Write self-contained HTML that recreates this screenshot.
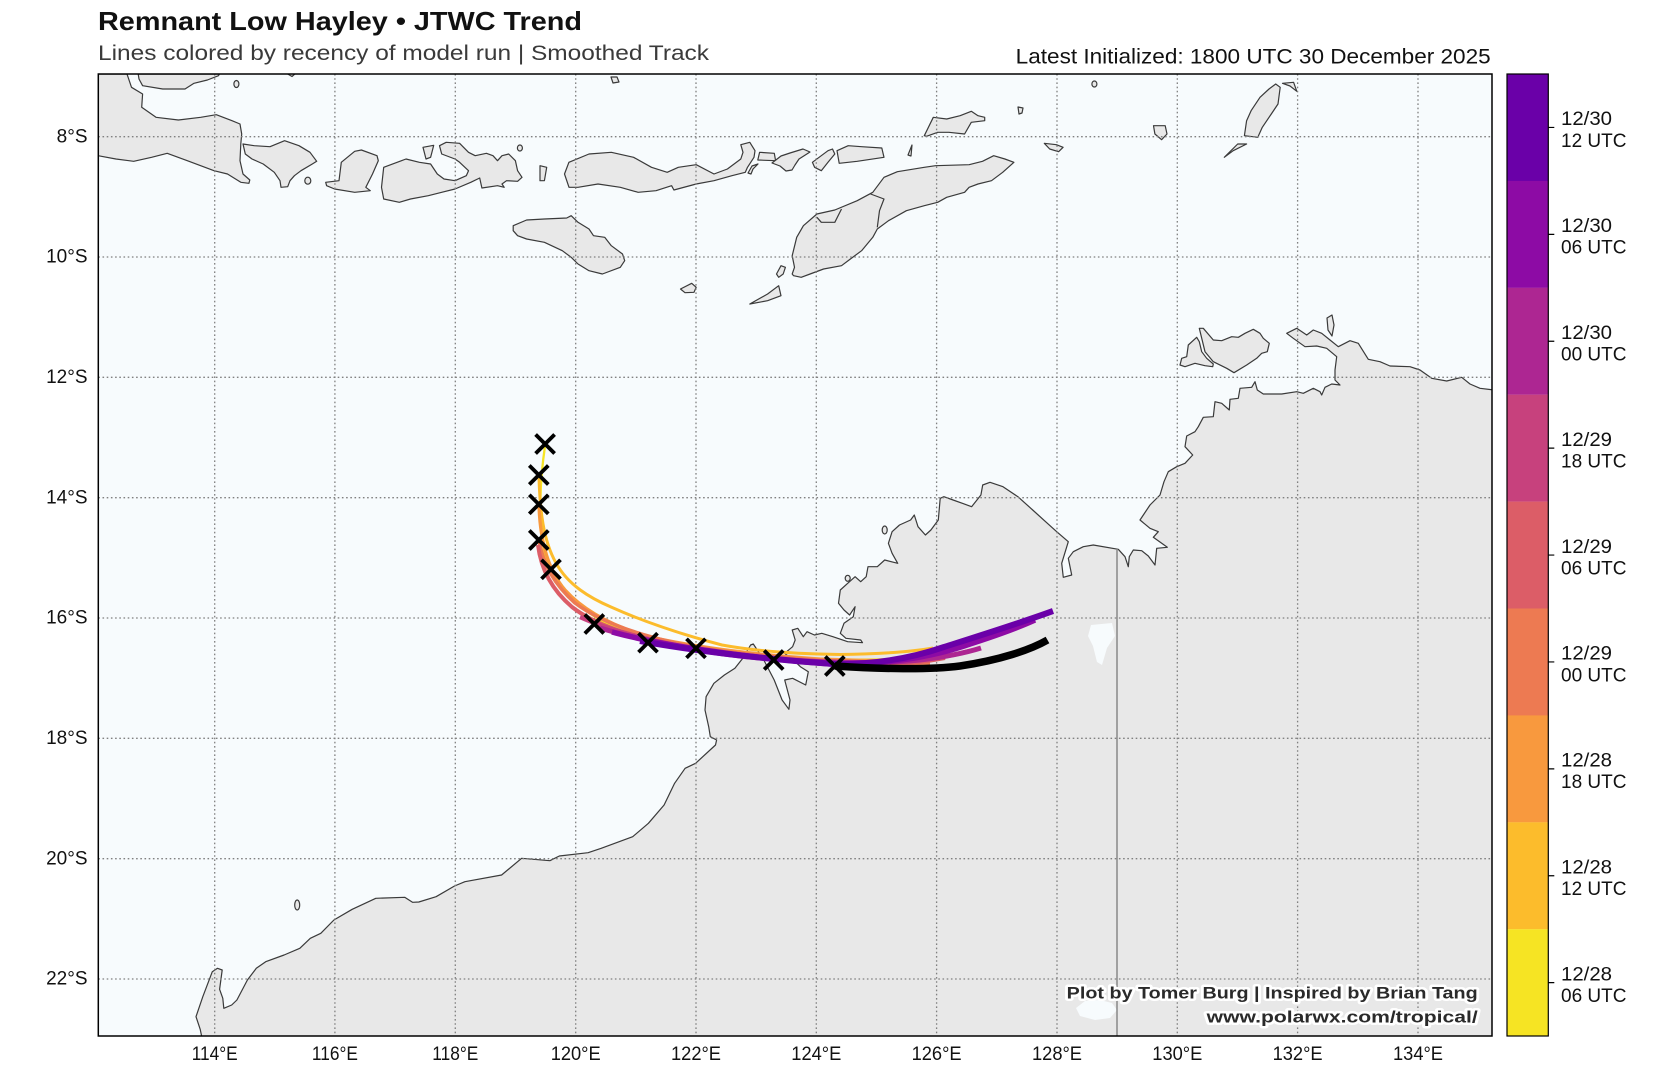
<!DOCTYPE html>
<html>
<head>
<meta charset="utf-8">
<style>
  html,body{margin:0;padding:0;background:#fff;}
  svg{display:block;}
  text{font-family:"Liberation Sans",Arial,sans-serif;}
</style>
</head>
<body>
<svg width="1662" height="1068" viewBox="0 0 1662 1068" xmlns="http://www.w3.org/2000/svg">
  <defs>
    <clipPath id="mapclip"><rect x="98.3" y="74" width="1393.7" height="962"/></clipPath>
  </defs>

  <!-- Titles -->
  <text x="98" y="30" font-size="26" font-weight="bold" fill="#111" textLength="484" lengthAdjust="spacingAndGlyphs">Remnant Low Hayley • JTWC Trend</text>
  <text x="98" y="60" font-size="21" fill="#3a3a3a" textLength="611" lengthAdjust="spacingAndGlyphs">Lines colored by recency of model run | Smoothed Track</text>
  <text x="1015.7" y="63.3" font-size="21" fill="#111" textLength="475" lengthAdjust="spacingAndGlyphs">Latest Initialized: 1800 UTC 30 December 2025</text>

  <!-- Map -->
  <g clip-path="url(#mapclip)">
    <rect x="98.3" y="74" width="1393.7" height="962" fill="#f7fbfd"/>
    <g fill="#e8e8e8" stroke="#3a3a3a" stroke-width="1.2" stroke-linejoin="round">
      <path d="M98,74 L127,74 L131.5,87.3 L142.6,94 L141.7,107.3 L156,117.3 L178.4,120 L200.7,117.3 L216.3,114.7 L232,120.7 L240,124 L241.7,134 L240.8,144 L240,160.7 L243,174 L249.8,180 L248.9,183.3 L240.8,182.3 L227.5,174 L214,170.7 L187.3,160.7 L167.2,153.3 L151.6,157.3 L133.7,161.3 L115.9,159 L98,155.7 Z"/>
      <path d="M138.2,74 L139,79 L142.6,85.7 L162.7,89 L185,89 L194,83.3 L207.4,80 L218.5,75.7 L219.4,74 Z"/>
      <ellipse cx="236.4" cy="84" rx="2.5" ry="3.5"/>
      <path d="M286,73 L296,73 L292,76.5 Z"/>
      <path d="M611,77 L617,77 L619,82 L613,83 Z"/>
      <path d="M243,144 L254.2,145.7 L270,146.7 L284.6,140.7 L299,145.7 L310,152.3 L316.7,161.3 L312.3,164 L301,170.7 L294.4,175.7 L290,180.7 L287.7,186.7 L281,187.3 L280,180.7 L274.3,172.3 L263.2,164 L252,159 L245.3,154 Z"/>
      <ellipse cx="307.8" cy="180.7" rx="3" ry="3.5"/>
      <path d="M325.7,182.3 L339,180.7 L341.3,162.3 L354.7,151.3 L361.4,150 L377,155.7 L378.3,160.7 L372.5,174 L365.8,187.3 L370.3,190.7 L354.7,192.3 L334.6,189 L326.6,185.7 Z"/>
      <path d="M383.7,167.3 L401.5,160.7 L406,159 L419.4,162.3 L430.6,164 L437.3,174 L444,179 L455,180.7 L466.3,175.7 L468.5,170.7 L459.6,162.3 L455,159 L441.7,154 L439.5,145.7 L446.2,142.3 L459.6,143.3 L468.5,152.3 L475.2,155.7 L486.4,153.3 L493,155.7 L497.5,160.7 L502,155.7 L508.7,154 L515.4,160.7 L517.6,170.7 L522,177.3 L517.6,181.3 L506.5,180.7 L502,184 L504.2,187.3 L497.5,185.7 L481.9,188 L479.7,178 L470.8,182.3 L455,189 L441.7,192.3 L428.3,195.7 L410.5,199 L399.3,202.3 L383.7,199 L381.5,187.3 Z"/>
      <path d="M423,147.3 L433.7,145.3 L432,152 L430.6,157.3 L426,159 Z"/>
      <ellipse cx="519.9" cy="148" rx="2.5" ry="3"/>
      <path d="M540,165.7 L546.7,167.3 L544.4,180.7 L540,180.7 Z"/>
      <path d="M564.5,174 L568.9,162.3 L589,154 L611.3,152.3 L633.6,157.3 L651.5,167.3 L667.2,172.3 L678.3,167.3 L696.2,164.7 L714,174 L727.4,169 L740.8,159 L743,152.3 L740.8,144.7 L749.8,142.3 L755,150.7 L754,157.3 L747.5,167.3 L745.3,172.3 L731.9,175.7 L714,180.7 L696.2,184 L673.9,190 L671.6,185.7 L656,190.7 L638.1,192.3 L620.3,187.3 L598,184 L578,187.3 L569,187.3 Z"/>
      <path d="M759.6,152.3 L774.3,153.3 L775.6,160.7 L757.8,160 Z"/>
      <path d="M748,173 L752,166 L758,164 L753,169 L751,174 Z"/>
      <path d="M772,163 L781,156 L790,153 L803,149 L810,152 L799,159 L795,165 L792,170 L786,171 L780,166 Z"/>
      <path d="M513.2,225.7 L526.6,220 L544.4,219 L566.7,218 L571.2,215.7 L578,222.3 L589,229 L593.5,235.7 L604.7,237.3 L611.3,245.7 L622.5,254 L624.7,260.7 L620.3,267.3 L602.4,274 L589,270.7 L578,264 L571.2,257.3 L562.3,250.7 L544.4,242.3 L526.6,239 L517.6,235.7 L513.2,230.7 Z"/>
      <path d="M680.5,289 L691.7,283.3 L696.2,287.3 L694,292.3 L685,292.7 Z"/>
      <path d="M749.8,304 L767.6,294 L778.7,285.7 L781,295.7 L767.6,300.7 Z"/>
      <path d="M776.5,274 L781,265.7 L785.4,267.3 L783.2,274 L778.7,277.3 Z"/>
      <path d="M792.2,274 L794.5,267.3 L792.2,255.7 L796.7,237.3 L803.4,225.7 L816.9,214 L834.8,210 L857.2,200.7 L872.8,192.3 L884,177.3 L897.4,171.7 L924.3,167.3 L935.5,165.7 L969.1,164.7 L982.5,161.3 L993.7,155.7 L1004.9,159 L1013.9,162.3 L1002.7,172.3 L991.5,180.7 L978,184 L969.1,187.3 L964.6,192.3 L946.7,197.3 L937.7,202.3 L924.3,205.7 L906.4,210.7 L888.5,220.7 L877.3,229 L872.8,237.3 L861.6,250.7 L850.4,259 L841.5,265.7 L823.6,269 L810.1,274 L801.2,277.3 L793.6,275.7 Z"/>
      <path fill="none" d="M816.9,217.3 L821.3,222.3 L834.8,222.3 L841.5,209 M870.6,194 L884,199 L879.5,210.7 L877.3,227.3"/>
      <path d="M837,150.7 L848.2,145.7 L861.6,146.7 L881.8,148 L884,157.3 L857.2,161.3 L839.2,163.3 Z"/>
      <path d="M812.4,162.3 L819.1,157.3 L828,150.7 L832.5,149 L834.8,154 L828,162.3 L821.3,170.7 L814.6,167.3 Z"/>
      <path d="M908,155 L912,145 L911,156 Z"/>
      <path d="M924.3,135.7 L933.3,117.3 L946.7,119 L960.1,115.7 L971.3,111.3 L978,115.7 L984.7,117.3 L984.7,120.7 L971.3,122.3 L964.6,134 L948.9,132.3 L937.7,132.3 L926.5,136.3 Z"/>
      <path d="M1018,107 L1023,108 L1022,113 L1019,114 Z"/>
      <path d="M1044.3,143.3 L1056.4,144.7 L1063.1,147.3 L1058.6,151.7 L1049.7,149 Z"/>
      <ellipse cx="1094.4" cy="84" rx="2.5" ry="3"/>
      <path d="M1153.5,125.7 L1165.2,125.7 L1167,134 L1161.6,139.7 L1154.9,134 Z"/>
      <path d="M1244.4,135.7 L1246.6,120.7 L1251.1,110.7 L1260,97.3 L1269,89 L1275.7,84 L1280.2,87.3 L1278,104 L1271.3,114 L1262.3,127.3 L1257.8,137.3 Z"/>
      <path d="M1282.5,83.3 L1293.6,82.3 L1296.8,91.3 L1290,86 Z"/>
      <path d="M1224.3,157.3 L1237.7,144 L1246.6,144 L1233.2,150.7 Z"/>
      <path d="M1180,365 L1181.7,358.3 L1186.7,356.7 L1188.3,345 L1196.7,337.3 L1199.3,341.7 L1201.7,351.7 L1206.7,358.3 L1213.3,364 L1212.7,366.7 L1205,365.7 L1195,363.3 L1185,366.7 Z"/>
      <path d="M1199.3,328.3 L1203.3,328.3 L1213.3,340 L1221.7,340.7 L1231.7,336.7 L1238.3,337.3 L1245,333.3 L1253.3,329.3 L1260,333.3 L1263.3,338.3 L1269.3,343.3 L1267.3,351.7 L1261.7,353.3 L1256.7,358.3 L1246.7,365 L1234,372.7 L1226.7,368.3 L1213.3,361.7 L1205,351.7 Z"/>
      <path d="M1327,318 L1332,315 L1334,325 L1332,336 L1328,330 Z"/>
      <ellipse cx="884.7" cy="530" rx="2.5" ry="4"/>
      <ellipse cx="847.7" cy="578.3" rx="2.5" ry="3"/>
      <ellipse cx="297.2" cy="905" rx="2.5" ry="5"/>
      <path d="M201.8,1037 L200.2,1029.3 L196,1016.7 L202.8,996.7 L212.3,971.7 L217.5,968.3 L222.2,970 L219.6,989.3 L222.8,998.3 L223.8,1008.3 L231.7,1005 L236.9,1000 L247.4,980 L256.3,968.3 L265.7,961.7 L284.1,955 L299.8,948.3 L310.3,938.3 L320.8,933.3 L333.9,920 L352.2,909.3 L375.8,898.3 L404.7,897.3 L412.5,902.3 L418.8,902 L436.1,896.7 L454.5,886 L464.9,881.7 L501.6,875 L521.6,858.3 L549.9,860.7 L559.3,856 L588.1,852.7 L601.2,848.3 L632.7,836.7 L648.4,823.3 L664.1,805 L674.6,783.3 L685.1,768.3 L695.6,763.3 L715.5,745 L716.6,740 L710.3,736.7 L708.7,726.7 L705,710 L706.1,696.7 L713.9,683.3 L724.4,675 L734.9,668.3 L742.8,658.3 L750.6,645 L753.3,644 L763.8,660 L774.2,680 L782.1,700 L788.9,709.3 L790,700 L784.7,680 L792.6,678.3 L805.7,685 L808.3,671.7 L800.4,666.7 L795.2,661.7 L784.7,653.3 L792.6,646.7 L795.2,640 L792.2,630 L797.8,628.3 L803.3,636.7 L807,631.7 L814.4,635 L821.8,633.3 L832.9,636.7 L847.7,641.7 L862.5,642.7 L860.7,640 L845.9,638.3 L840.3,633.3 L844,623.3 L853.3,616.7 L855.1,606.7 L849.6,615 L844,610 L838.5,603.3 L840.3,590 L847.7,583.3 L855.1,576.7 L860.7,581.7 L866.2,576.7 L868,566.7 L877.3,566.7 L884.7,560 L897.7,563.3 L892.1,553.3 L888.4,543.3 L892.1,531.7 L899.5,525 L910.6,520 L914.3,515 L918,526.7 L925.4,535 L930.9,530 L938.3,520 L940.2,498.3 L943.9,496.7 L953.1,500 L962.4,503.3 L971.6,506.7 L980.9,495 L982.7,485 L990,482.3 L1003,486.7 L1017.9,496.7 L1032.7,510 L1045.6,521.7 L1056.7,531.7 L1068.3,541.7 L1061.7,563.3 L1063.3,577.3 L1071.7,575 L1068.3,558.3 L1073.3,551.7 L1083.3,546.7 L1093.3,545 L1118.3,549.3 L1125,556.7 L1128.3,566.7 L1129.3,556.7 L1133.3,550 L1141.7,550.7 L1148.3,556 L1155,565 L1156.7,548.3 L1167.3,547.3 L1153.3,537.3 L1158.3,531.7 L1150,528.3 L1140,520 L1150,505 L1160,495 L1164,481.7 L1168.3,471.7 L1176.7,466.7 L1185,463.3 L1192.7,455 L1185,446.7 L1186.7,436 L1195,431.7 L1198.3,426.7 L1203.3,417.3 L1213.3,416.7 L1215,401.7 L1221.7,403.3 L1229.3,410 L1230,399.3 L1238.3,398.3 L1240,388.3 L1251.7,387.3 L1255,381.7 L1257.3,390 L1263.3,394 L1281.7,394 L1296.7,391.7 L1303.3,393.3 L1313.3,388.3 L1320,391.7 L1321.7,395 L1325,387.3 L1331.7,384 L1340,385 L1335,380 L1335,370 L1336.7,356.7 L1326.7,348.3 L1316.7,346 L1305,346.7 L1293.3,338.3 L1286.7,333.3 L1296.7,328.3 L1306.7,335 L1313.3,330 L1321.7,333.3 L1330,340 L1338.3,346.7 L1350,340.7 L1358.3,343.3 L1368.3,359.3 L1380,361.7 L1390,366 L1410,366.7 L1420,370 L1431.7,378.3 L1446.7,381 L1461.7,377.3 L1470,384 L1480,388.3 L1494,390 L1494,1038 L201.8,1038 Z"/>
    </g>
    <path fill="#f7fbfd" d="M1091,625 L1112,623 L1115,636 L1107,648 L1102,665 L1097,662 L1093,646 L1088,636 Z"/>
    <path fill="#f7fbfd" d="M1076,1008 L1085,1001 L1100,1000 L1112,1003 L1117,1010 L1110,1018 L1095,1020 L1080,1016 Z"/>
    <line x1="1117" y1="549" x2="1117" y2="1036" stroke="#888" stroke-width="1.5"/>

    <g stroke="#808080" stroke-width="1.3" stroke-dasharray="1.6 2.6" fill="none">
      <path d="M214.7,74 V1036 M334.9,74 V1036 M455.3,74 V1036 M575.7,74 V1036 M696,74 V1036 M816.3,74 V1036 M936.6,74 V1036 M1057,74 V1036 M1177.3,74 V1036 M1297.6,74 V1036 M1418,74 V1036"/>
      <path d="M98.3,136.7 H1492 M98.3,257 H1492 M98.3,377.3 H1492 M98.3,497.7 H1492 M98.3,618 H1492 M98.3,738.3 H1492 M98.3,858.7 H1492 M98.3,979 H1492"/>
    </g>

    <!-- Tracks -->
    <g fill="none" stroke-linecap="butt" stroke-linejoin="round">
      <path stroke="#f6e423" stroke-width="2.3" d="M545,446 C540,480 538,520 544,550 C553,585 578,610 612,626 C650,641 700,650 760,656 C820,660 880,661 930,657"/>
      <path stroke="#fcbc2c" stroke-width="3" d="M539,478 C540,510 543,540 556,563 C568,585 590,598 611,607 C640,620 680,634 722,645 C760,652 800,654 840,654.5 C880,654 910,652 933,648"/>
      <path stroke="#f8993e" stroke-width="3.3" d="M539,505 C540,540 548,570 565,590 C585,612 615,627 650,637 C700,648 760,655 820,659 C870,661 905,661 931,660"/>
      <path stroke="#ed7a52" stroke-width="3.6" d="M539,540 C543,565 555,585 575,603 C600,622 640,636 690,646 C750,656 820,661 880,663 C900,663.5 915,663.5 930,663"/>
      <path stroke="#dc5d67" stroke-width="4" d="M538,545 C541,570 552,590 572,607 C595,625 630,636 680,646 C740,656 810,662 880,664 C905,664 925,662 945,658"/>
      <path stroke="#c7417d" stroke-width="4.5" d="M580,617 C615,633 670,646 740,656 C800,662 860,664 910,661 C935,659 955,655 970,651"/>
      <path stroke="#ad2692" stroke-width="5" d="M600,628 C650,643 710,654 770,659 C830,663 880,664 920,660 C945,657 965,653 981,648"/>
      <path stroke="#8d0ba5" stroke-width="5.5" d="M612,632 C660,645 740,657 830,664 C880,665 930,658 970,644 C995,636 1015,629 1035,620"/>
      <path stroke="#6a00a8" stroke-width="6" d="M640,641 C690,650 760,659 835,664 C880,664.5 915,657 944,647 C985,634 1020,623 1053,611"/>
      <path stroke="#000" stroke-width="7.5" d="M834.8,666 C880,669 930,670 960,666 C1000,660 1030,650 1047.5,640"/>
    </g>

    <!-- Markers -->
    <g stroke="#000" stroke-width="3.8" stroke-linecap="butt">
      <path d="M535.6,434.5 l19,19 m0,-19 l-19,19"/>
      <path d="M529.3,465.5 l19,19 m0,-19 l-19,19"/>
      <path d="M529.3,494.8 l19,19 m0,-19 l-19,19"/>
      <path d="M529.3,530.5 l19,19 m0,-19 l-19,19"/>
      <path d="M541.5,559.8 l19,19 m0,-19 l-19,19"/>
      <path d="M584.8,614.5 l19,19 m0,-19 l-19,19"/>
      <path d="M638.5,633.2 l19,19 m0,-19 l-19,19"/>
      <path d="M686.5,638.8 l19,19 m0,-19 l-19,19"/>
      <path d="M764.2,650.5 l19,19 m0,-19 l-19,19"/>
      <path d="M825.3,656.5 l19,19 m0,-19 l-19,19"/>
    </g>

    <g font-size="17" font-weight="bold" fill="#2a2a2a" stroke="#ffffff" stroke-width="5" stroke-linejoin="round" paint-order="stroke">
      <text x="1066.7" y="998.3" textLength="411" lengthAdjust="spacingAndGlyphs">Plot by Tomer Burg | Inspired by Brian Tang</text>
      <text x="1206.7" y="1022.7" textLength="271" lengthAdjust="spacingAndGlyphs">www.polarwx.com/tropical/</text>
    </g>
  </g>
  <rect x="98.3" y="74" width="1393.7" height="962" fill="none" stroke="#000" stroke-width="1.5"/>

  <g font-size="19" fill="#111" text-anchor="end">
    <text x="87.5" y="142.3">8°S</text>
    <text x="87.5" y="262.6">10°S</text>
    <text x="87.5" y="382.9">12°S</text>
    <text x="87.5" y="503.3">14°S</text>
    <text x="87.5" y="623.6">16°S</text>
    <text x="87.5" y="743.9">18°S</text>
    <text x="87.5" y="864.3">20°S</text>
    <text x="87.5" y="984.6">22°S</text>
  </g>
  <g font-size="19" fill="#111">
    <text x="191.7" y="1060" textLength="46" lengthAdjust="spacingAndGlyphs">114°E</text>
    <text x="311.9" y="1060" textLength="46" lengthAdjust="spacingAndGlyphs">116°E</text>
    <text x="432.3" y="1060" textLength="46" lengthAdjust="spacingAndGlyphs">118°E</text>
    <text x="550.7" y="1060" textLength="50" lengthAdjust="spacingAndGlyphs">120°E</text>
    <text x="671" y="1060" textLength="50" lengthAdjust="spacingAndGlyphs">122°E</text>
    <text x="791.3" y="1060" textLength="50" lengthAdjust="spacingAndGlyphs">124°E</text>
    <text x="911.6" y="1060" textLength="50" lengthAdjust="spacingAndGlyphs">126°E</text>
    <text x="1032" y="1060" textLength="50" lengthAdjust="spacingAndGlyphs">128°E</text>
    <text x="1152.3" y="1060" textLength="50" lengthAdjust="spacingAndGlyphs">130°E</text>
    <text x="1272.6" y="1060" textLength="50" lengthAdjust="spacingAndGlyphs">132°E</text>
    <text x="1393" y="1060" textLength="50" lengthAdjust="spacingAndGlyphs">134°E</text>
  </g>

  <g>
    <rect x="1507" y="74" width="41.3" height="107" fill="#6a00a8"/>
    <rect x="1507" y="180.9" width="41.3" height="107" fill="#8d0ba5"/>
    <rect x="1507" y="287.8" width="41.3" height="107" fill="#ad2692"/>
    <rect x="1507" y="394.7" width="41.3" height="107" fill="#c7417d"/>
    <rect x="1507" y="501.6" width="41.3" height="107" fill="#dc5d67"/>
    <rect x="1507" y="608.5" width="41.3" height="107" fill="#ed7a52"/>
    <rect x="1507" y="715.4" width="41.3" height="107" fill="#f8993e"/>
    <rect x="1507" y="822.3" width="41.3" height="107" fill="#fcbc2c"/>
    <rect x="1507" y="929.2" width="41.3" height="106.8" fill="#f6e423"/>
    <rect x="1507" y="74" width="41.3" height="962" fill="none" stroke="#000" stroke-width="1.2"/>
    <g stroke="#000" stroke-width="1.2">
      <path d="M1548.3,127.45 h6 M1548.3,234.35 h6 M1548.3,341.25 h6 M1548.3,448.15 h6 M1548.3,555.05 h6 M1548.3,661.95 h6 M1548.3,768.85 h6 M1548.3,875.75 h6 M1548.3,982.65 h6"/>
    </g>
    <g font-size="19" fill="#111">
      <text x="1561" y="125.2" textLength="51" lengthAdjust="spacingAndGlyphs">12/30</text><text x="1561" y="146.8">12 UTC</text>
      <text x="1561" y="232.1" textLength="51" lengthAdjust="spacingAndGlyphs">12/30</text><text x="1561" y="253.7">06 UTC</text>
      <text x="1561" y="339" textLength="51" lengthAdjust="spacingAndGlyphs">12/30</text><text x="1561" y="360.6">00 UTC</text>
      <text x="1561" y="445.9" textLength="51" lengthAdjust="spacingAndGlyphs">12/29</text><text x="1561" y="467.5">18 UTC</text>
      <text x="1561" y="552.8" textLength="51" lengthAdjust="spacingAndGlyphs">12/29</text><text x="1561" y="574.4">06 UTC</text>
      <text x="1561" y="659.7" textLength="51" lengthAdjust="spacingAndGlyphs">12/29</text><text x="1561" y="681.3">00 UTC</text>
      <text x="1561" y="766.6" textLength="51" lengthAdjust="spacingAndGlyphs">12/28</text><text x="1561" y="788.2">18 UTC</text>
      <text x="1561" y="873.5" textLength="51" lengthAdjust="spacingAndGlyphs">12/28</text><text x="1561" y="895.1">12 UTC</text>
      <text x="1561" y="980.4" textLength="51" lengthAdjust="spacingAndGlyphs">12/28</text><text x="1561" y="1002">06 UTC</text>
    </g>
  </g>
</svg>
</body>
</html>
